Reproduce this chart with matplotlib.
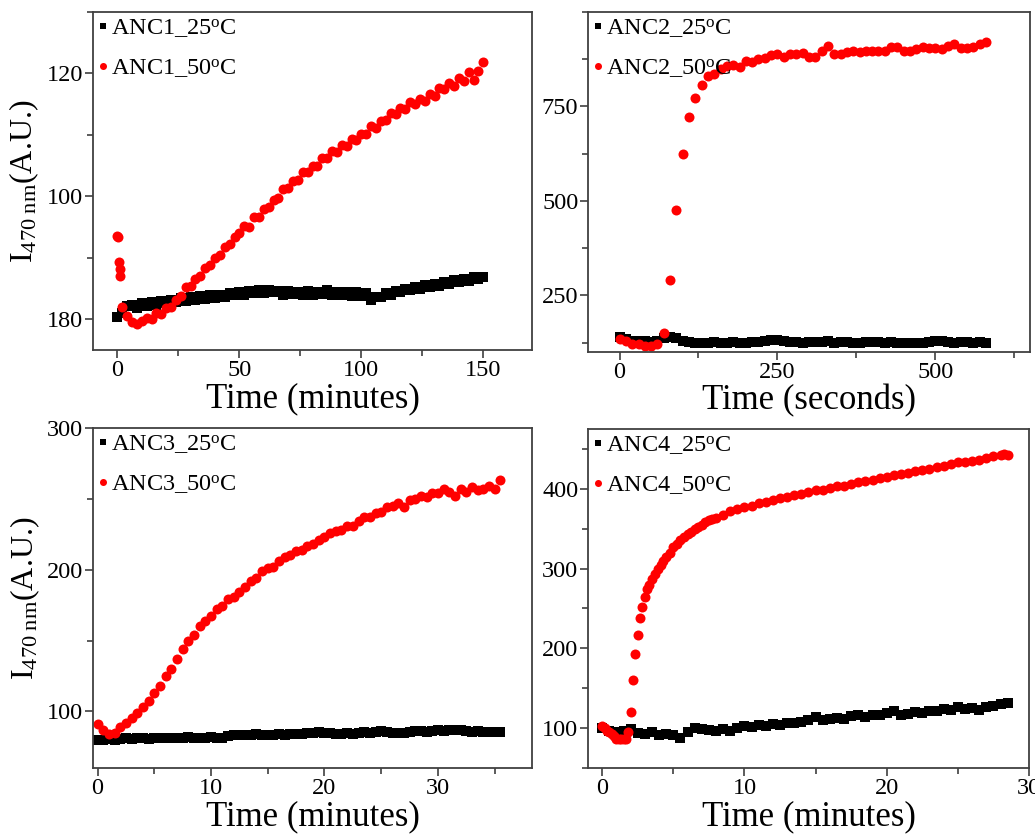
import numpy as np
import matplotlib
matplotlib.use("Agg")
import matplotlib.pyplot as plt
from matplotlib.ticker import MultipleLocator, FixedLocator, FixedFormatter

plt.rcParams['font.family'] = ['Liberation Serif', 'DejaVu Serif']
plt.rcParams['mathtext.fontset'] = 'custom'
plt.rcParams['mathtext.rm'] = 'Liberation Serif'
plt.rcParams['mathtext.it'] = 'Liberation Serif:italic'

# ---- ANC1 (minutes) ----
anc1_t50 = np.concatenate([[0, 0.3, 0.6, 0.9, 1.2], np.arange(2, 151, 2)])
anc1_50 = [93.6, 93.4, 89.3, 88.2, 87.0,
           82.0, 80.5, 79.6, 79.3, 79.8, 80.2, 80.0, 81.0, 80.8, 81.8,
           82.0, 83.2, 83.8, 85.2, 85.4, 86.6, 87.0, 88.4, 88.8, 90.0,
           90.4, 91.8, 92.2, 93.4, 94.0, 95.2, 95.0, 96.6, 96.7, 98.0,
           98.2, 99.4, 99.8, 101.2, 101.3, 102.5, 102.6, 103.9, 103.9, 105.0,
           105.0, 106.3, 106.2, 107.4, 107.3, 108.4, 108.2, 109.4, 109.2, 110.2,
           110.2, 111.4, 111.2, 112.2, 112.4, 113.6, 113.4, 114.4, 114.2, 115.4,
           115.0, 115.9, 115.6, 116.6, 116.4, 117.6, 117.4, 118.4, 118.0, 119.3,
           118.8, 120.2, 119.0, 120.4, 121.8]
anc1_t25 = np.arange(0, 151, 2)
anc1_25 = [80.3, 81.0, 82.2, 82.4, 81.8, 82.6, 82.2, 82.8, 82.4, 83.0,
           82.6, 83.2, 82.8, 83.4, 83.0, 83.6, 83.2, 83.8, 83.3, 84.0,
           83.5, 84.0, 83.7, 84.3, 83.9, 84.5, 84.0, 84.6, 84.2, 84.8,
           84.3, 84.8, 84.4, 84.6, 84.0, 84.6, 84.1, 84.5, 84.0, 84.6,
           84.0, 84.5, 84.1, 84.7, 84.0, 84.5, 84.0, 84.4, 83.8, 84.4,
           83.8, 84.2, 83.2, 83.6, 83.6, 84.2, 84.0, 84.6, 84.4, 85.0,
           84.8, 85.3, 84.9, 85.6, 85.2, 85.8, 85.4, 86.1, 85.7, 86.4,
           86.0, 86.6, 86.2, 86.9, 86.5, 86.9]

# ---- ANC2 (seconds) ----
anc2_t = np.arange(0, 581, 10)
anc2_50 = [134, 129, 122, 122, 116, 116, 120, 151, 290, 475,
           623, 723, 773, 806, 830, 836, 848, 857, 860, 854,
           870, 868, 876, 879, 885, 889, 880, 888, 889, 891,
           880, 882, 896, 909, 889, 889, 894, 898, 894, 896,
           898, 898, 896, 907, 907, 898, 898, 903, 907, 905,
           905, 903, 911, 916, 905, 905, 908, 914, 920]
anc2_25 = [139, 135, 130, 128, 128, 127, 130, 136, 141, 138,
           130, 127, 125, 124, 125, 126, 125, 124, 126, 125,
           124, 126, 127, 128, 131, 131, 128, 126, 127, 125,
           126, 127, 126, 128, 125, 127, 126, 124, 125, 127,
           127, 126, 125, 126, 125, 124, 123, 124, 125, 126,
           128, 129, 127, 125, 126, 126, 125, 126, 125]

# ---- ANC3 (minutes) ----
anc3_t = np.arange(0, 35.6, 0.5)
anc3_50 = [91, 87, 84, 85, 89, 92, 95, 99, 103, 107,
           113, 118, 125, 130, 137, 144, 150, 154, 160, 164,
           167, 172, 174, 179, 181, 184, 188, 192, 194, 199,
           201, 202, 206, 209, 210, 213, 214, 217, 218, 221,
           223, 226, 227, 228, 231, 231, 234, 237, 237, 240,
           241, 244, 245, 247, 244, 249, 250, 252, 251, 254,
           254, 257, 255, 252, 257, 255, 258, 256, 257, 259,
           257, 263]
anc3_25 = [80, 80, 80.5, 80, 80.5, 81, 80.5, 81, 81, 80.5, 81, 81.5,
           81, 81.5, 81, 81.5, 82, 81.5, 81, 81.5, 82, 81.5, 81.5, 82.5,
           83.5, 83, 83.5, 83, 84, 83.5, 83, 83.5, 84, 83.5, 84, 84,
           84, 84.5, 85, 85.5, 85, 84.5, 84, 84, 84.5, 84, 85, 85.5,
           85, 85.5, 86, 85.5, 85, 84.5, 85, 85.5, 86, 86, 85.5, 86,
           86.5, 86, 86.5, 87, 86.5, 86, 85.5, 86, 85.5, 85.5, 85.5, 85.5]

# ---- ANC4 (minutes) ----
anc4_t50 = [0, 0.17, 0.33, 0.5, 0.67, 0.83, 1.0, 1.17, 1.33, 1.5, 1.67, 1.83,
            2.0, 2.16, 2.32, 2.49, 2.65, 2.82, 2.98, 3.15, 3.3, 3.5, 3.7, 3.9,
            4.1, 4.3, 4.5, 4.75, 5.0, 5.25, 5.5, 5.75, 6.0, 6.25, 6.5, 6.75,
            7.0, 7.25, 7.5, 7.75, 8.0, 8.5, 9.0, 9.5, 10.0, 10.5, 11.0, 11.5,
            12.0, 12.5, 13.0, 13.5, 14.0, 14.5, 15.0, 15.5, 16.0, 16.5, 17.0,
            17.5, 18.0, 18.5, 19.0, 19.5, 20.0, 20.5, 21.0, 21.5, 22.0, 22.5,
            23.0, 23.5, 24.0, 24.5, 25.0, 25.5, 26.0, 26.5, 27.0, 27.5, 28.0,
            28.25, 28.5]
anc4_50 = [103, 100, 97, 95, 93, 90, 87, 86, 87, 86, 87, 95,
           120, 160, 193, 217, 238, 252, 264, 275, 279, 287, 293, 299,
           304, 309, 314, 320, 327, 331, 336, 339, 343, 346, 349, 352,
           355, 358, 361, 362, 364, 367, 372, 375, 377, 379, 382, 384,
           386, 388, 390, 392, 394, 396, 398, 399, 401, 403, 404,
           406, 408, 410, 411, 413, 415, 417, 418, 420, 422, 423,
           425, 427, 429, 431, 433, 434, 435, 436, 438, 441, 442,
           444, 442]
anc4_t25 = np.arange(0, 28.6, 0.5)
anc4_25 = [100, 97, 95, 96, 99, 94, 93, 95, 92, 93,
           92, 88, 95, 100, 99, 98, 96, 99, 97, 100,
           103, 101, 104, 103, 105, 104, 107, 106, 108, 110,
           114, 110, 111, 113, 112, 115, 116, 114, 117, 116,
           119, 121, 117, 118, 120, 119, 122, 121, 124, 123,
           126, 124, 125, 123, 127, 128, 130, 131]

panels = [
    dict(pos=[0.0899, 0.5828, 0.4242, 0.4029], name='ANC1',
         t25=anc1_t25, y25=anc1_25, t50=anc1_t50, y50=anc1_50,
         xlim=(-10, 170), ylim=(75, 130), xt=[0, 50, 100, 150], xm=25,
         yt=[80, 100, 120], ytl=['180', '100', '120'], ym=10,
         xlabel='Time (minutes)', ylabel=True),
    dict(pos=[0.5681, 0.5804, 0.4271, 0.4053], name='ANC2',
         t25=anc2_t, y25=anc2_25, t50=anc2_t, y50=anc2_50,
         xlim=(-50, 650), ylim=(100, 1000), xt=[0, 250, 500], xm=125,
         yt=[250, 500, 750], ytl=None, ym=125,
         xlabel='Time (seconds)', ylabel=False),
    dict(pos=[0.0899, 0.0846, 0.4242, 0.4053], name='ANC3',
         t25=anc3_t, y25=anc3_25, t50=anc3_t, y50=anc3_50,
         xlim=(-0.4, 38.3), ylim=(60, 300), xt=[0, 10, 20, 30], xm=5,
         yt=[100, 200, 300], ytl=None, ym=50,
         xlabel='Time (minutes)', ylabel=True),
    dict(pos=[0.5681, 0.0846, 0.4261, 0.4041], name='ANC4',
         t25=anc4_t25, y25=anc4_25, t50=anc4_t50, y50=anc4_50,
         xlim=(-1, 30), ylim=(50, 475), xt=[0, 10, 20, 30], xm=5,
         yt=[100, 200, 300, 400], ytl=None, ym=50,
         xlabel='Time (minutes)', ylabel=False),
]

fig = plt.figure(figsize=(10.35, 8.39), dpi=100)

for p in panels:
    ax = fig.add_axes(p['pos'])
    ax.plot(p['t25'], p['y25'], 's', color='black', ms=6.5, mew=0,
            label=p['name'] + r'_25$^{\mathregular{o}}$C')
    ax.plot(p['t50'], p['y50'], 'o', color='#ff0000', ms=7.2, mew=0,
            label=p['name'] + r'_50$^{\mathregular{o}}$C')
    ax.set_xlim(p['xlim'])
    ax.set_ylim(p['ylim'])
    ax.xaxis.set_major_locator(FixedLocator(p['xt']))
    ax.xaxis.set_minor_locator(MultipleLocator(p['xm']))
    ax.yaxis.set_major_locator(FixedLocator(p['yt']))
    ax.yaxis.set_minor_locator(MultipleLocator(p['ym']))
    if p['ytl']:
        ax.yaxis.set_major_formatter(FixedFormatter(p['ytl']))
    for s in ax.spines.values():
        s.set_color('#404040')
        s.set_linewidth(1.3)
    ax.tick_params(which='both', direction='out', top=False, right=False,
                   color='#404040', width=1.2, labelsize=17.5, pad=1)
    ax.tick_params(which='major', length=6)
    ax.tick_params(which='minor', length=4)
    ax.set_xlabel(p['xlabel'], fontsize=25, labelpad=1)
    if p['ylabel']:
        ax.set_ylabel(r'I$_{\mathregular{470\ nm}}$(A.U.)', fontsize=23, labelpad=4)
    ax.legend(loc='upper left', frameon=False, fontsize=17.5,
              handlelength=0.4, handletextpad=0.15, labelspacing=0.7,
              borderaxespad=0.0, borderpad=0.2, markerscale=0.7)

fig.savefig('out.png', dpi=100)
